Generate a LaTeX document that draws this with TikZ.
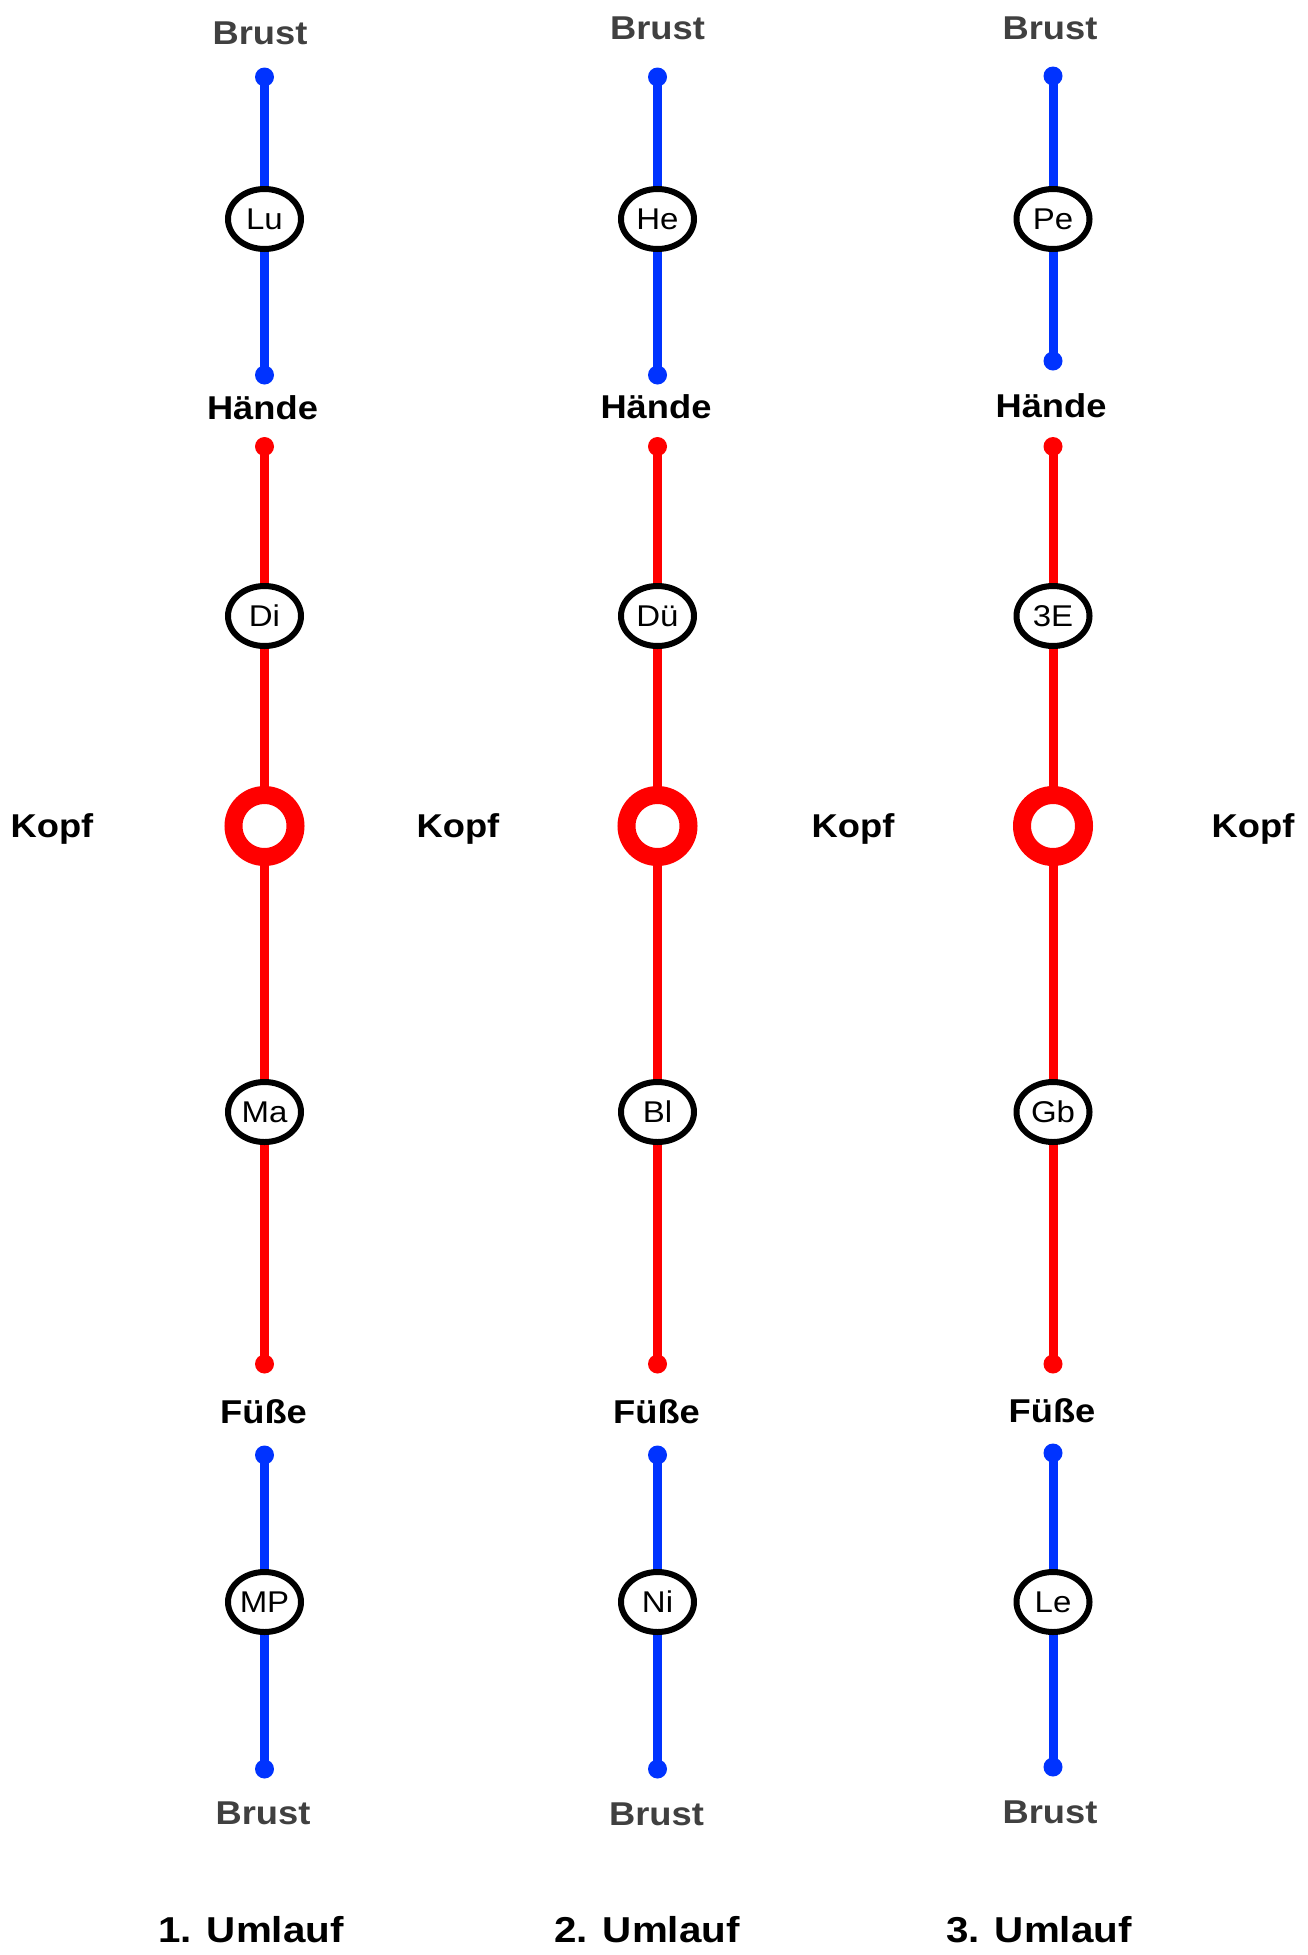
\documentclass[tikz,border=0pt]{standalone}
\usepackage{fontspec}
\setmainfont{Liberation Sans}
\newfontfamily\labfont[FakeStretch=1.1]{Liberation Sans}
\newfontfamily\umfont[FakeStretch=1.12]{Liberation Sans}
\usetikzlibrary{shapes.geometric,backgrounds}
\definecolor{lblue}{HTML}{0033FF}
\definecolor{lred}{HTML}{FF0000}
\definecolor{bgray}{HTML}{404040}
\tikzset{
  lab/.style={font=\labfont\bfseries\fontsize{33}{38}\selectfont, anchor=base, inner sep=0pt, text=black},
  graylab/.style={lab, text=bgray},
  umlab/.style={font=\umfont\bfseries\fontsize{36}{42}\selectfont, anchor=base, inner sep=0pt, text=black},
  bluedot/.style={circle, fill=lblue, minimum size=19pt, inner sep=0pt},
  reddot/.style={circle, fill=lred, minimum size=19pt, inner sep=0pt},
  blueline/.style={draw=lblue, line width=9pt},
  redline/.style={draw=lred, line width=9pt},
  station/.style={ellipse, draw=black, line width=6pt, fill=white, minimum width=73pt, minimum height=60pt, inner sep=0pt, font=\labfont\fontsize{30}{34}\selectfont},
  ring/.style={circle, draw=lred, line width=18pt, fill=white, minimum size=62pt, inner sep=0pt}
}
\begin{document}
\begin{tikzpicture}[x=1pt, y=-1pt]
\useasboundingbox (0,0) rectangle (1307,1955);
% column 1
\node[graylab] (c1brustA) at (260,44) {Brust};
\node[bluedot] (c1d1) at (264.5,77) {};
\node[station] (c1s1) at (264.5,219) {Lu};
\node[bluedot] (c1d2) at (264.5,375) {};
\node[lab] (c1haende) at (262.5,419.5) {Hände};
\node[reddot] (c1d3) at (264.5,446.5) {};
\node[station] (c1s2) at (264.5,616) {Di};
\node[ring] (c1k) at (264.5,826) {};
\node[station] (c1s3) at (264.5,1112) {Ma};
\node[reddot] (c1d4) at (264.5,1364) {};
\node[lab] (c1fuesse) at (263.5,1423) {Füße};
\node[bluedot] (c1d5) at (264.5,1455) {};
\node[station] (c1s4) at (264.5,1602) {MP};
\node[bluedot] (c1d6) at (264.5,1769) {};
\node[graylab] (c1brustB) at (263,1824) {Brust};
\node[umlab] (c1title) at (251,1942) {1. Umlauf};
% column 2
\node[graylab] (c2brustA) at (657.5,39.5) {Brust};
\node[bluedot] (c2d1) at (657.5,77) {};
\node[station] (c2s1) at (657.5,219) {He};
\node[bluedot] (c2d2) at (657.5,375) {};
\node[lab] (c2haende) at (656,418) {Hände};
\node[reddot] (c2d3) at (657.5,446.5) {};
\node[station] (c2s2) at (657.5,616) {Dü};
\node[ring] (c2k) at (657.5,826) {};
\node[station] (c2s3) at (657.5,1112) {Bl};
\node[reddot] (c2d4) at (657.5,1364) {};
\node[lab] (c2fuesse) at (656.5,1423) {Füße};
\node[bluedot] (c2d5) at (657.5,1455) {};
\node[station] (c2s4) at (657.5,1602) {Ni};
\node[bluedot] (c2d6) at (657.5,1769) {};
\node[graylab] (c2brustB) at (656.5,1825.5) {Brust};
\node[umlab] (c2title) at (647,1942) {2. Umlauf};
% column 3
\node[graylab] (c3brustA) at (1050,39.5) {Brust};
\node[bluedot] (c3d1) at (1053,76) {};
\node[station] (c3s1) at (1053,219) {Pe};
\node[bluedot] (c3d2) at (1053,361) {};
\node[lab] (c3haende) at (1051,417) {Hände};
\node[reddot] (c3d3) at (1053,446.5) {};
\node[station] (c3s2) at (1053,616) {3E};
\node[ring] (c3k) at (1053,826) {};
\node[station] (c3s3) at (1053,1112) {Gb};
\node[reddot] (c3d4) at (1053,1364) {};
\node[lab] (c3fuesse) at (1052,1422) {Füße};
\node[bluedot] (c3d5) at (1053,1453) {};
\node[station] (c3s4) at (1053,1602) {Le};
\node[bluedot] (c3d6) at (1053,1767) {};
\node[graylab] (c3brustB) at (1050,1823) {Brust};
\node[umlab] (c3title) at (1039,1942) {3. Umlauf};
% Kopf labels
\node[lab] (kopf1) at (52,837) {Kopf};
\node[lab] (kopf2) at (458,837) {Kopf};
\node[lab] (kopf3) at (853,837) {Kopf};
\node[lab] (kopf4) at (1253,837) {Kopf};
% lines
\begin{pgfonlayer}{background}
\draw[blueline] (c1d1.center) -- (c1s1.center) -- (c1d2.center);
\draw[redline] (c1d3.center) -- (c1s2.center) -- (c1k.center) -- (c1s3.center) -- (c1d4.center);
\draw[blueline] (c1d5.center) -- (c1s4.center) -- (c1d6.center);
\draw[blueline] (c2d1.center) -- (c2s1.center) -- (c2d2.center);
\draw[redline] (c2d3.center) -- (c2s2.center) -- (c2k.center) -- (c2s3.center) -- (c2d4.center);
\draw[blueline] (c2d5.center) -- (c2s4.center) -- (c2d6.center);
\draw[blueline] (c3d1.center) -- (c3s1.center) -- (c3d2.center);
\draw[redline] (c3d3.center) -- (c3s2.center) -- (c3k.center) -- (c3s3.center) -- (c3d4.center);
\draw[blueline] (c3d5.center) -- (c3s4.center) -- (c3d6.center);
\end{pgfonlayer}
\end{tikzpicture}
\end{document}
